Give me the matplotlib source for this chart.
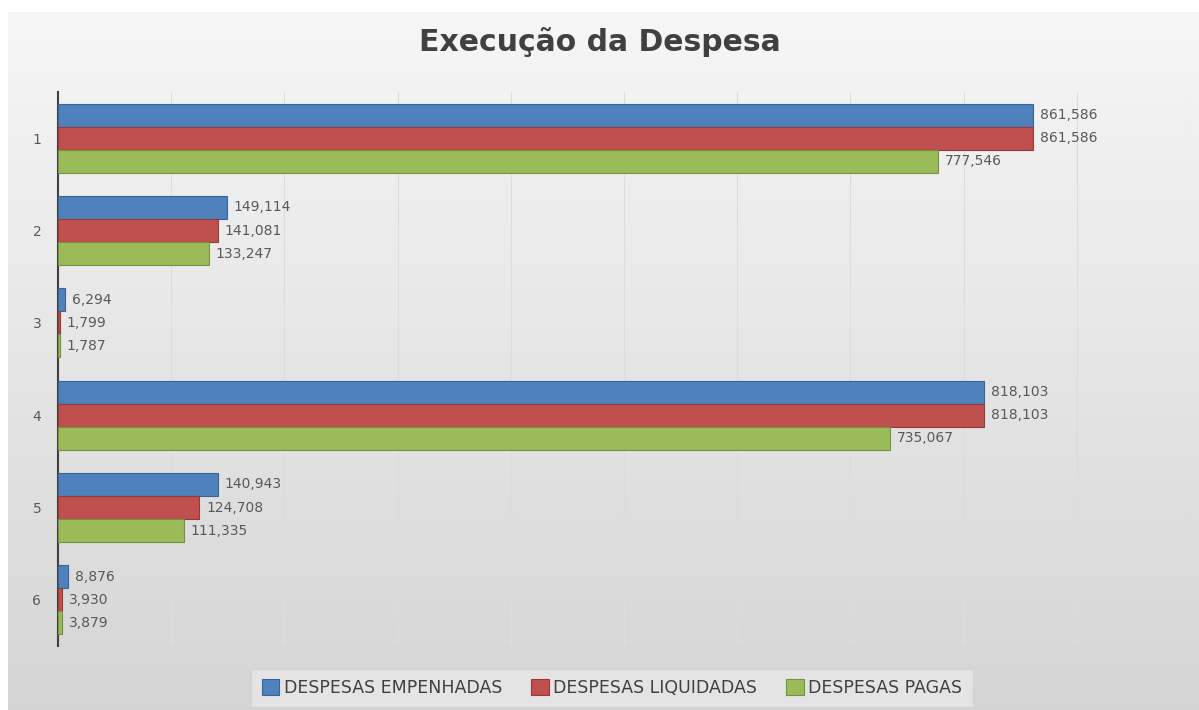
import matplotlib
matplotlib.use("Agg")
import matplotlib.pyplot as plt
import numpy as np

categories = ["1", "2", "3", "4", "5", "6"]
empenhadas = [861586, 149114, 6294, 818103, 140943, 8876]
liquidadas = [861586, 141081, 1799, 818103, 124708, 3930]
pagas = [777546, 133247, 1787, 735067, 111335, 3879]
series_names = ["DESPESAS EMPENHADAS", "DESPESAS LIQUIDADAS", "DESPESAS PAGAS"]
colors = ["#4f81bd", "#c0504d", "#9bbb59"]
edges = ["#3a6494", "#943b39", "#76913f"]

W, H = 1199, 710
fig = plt.figure(figsize=(W / 100, H / 100), dpi=100)
fig.patch.set_facecolor("white")

# background gradient frame
bg = fig.add_axes([8 / W, 0, 1 - 8 / W, 1 - 12 / H])
grad = np.linspace(0, 1, 256).reshape(-1, 1)
top = np.array([0.965, 0.965, 0.965])
bot = np.array([0.835, 0.835, 0.835])
img = top + (bot - top) * grad[..., None] * np.ones((1, 2, 1))
bg.imshow(img, aspect="auto", extent=[0, 1, 0, 1], origin="upper")
bg.set_axis_off()
bg.set_zorder(-10)

ax = fig.add_axes([58 / W, 1 - 646 / H, (1190 - 58) / W, (646 - 92) / H])
ax.patch.set_alpha(0)

y = np.arange(len(categories))
h = 0.25
data = [empenhadas, liquidadas, pagas]
for i, (vals, c, e, name) in enumerate(zip(data, colors, edges, series_names)):
    pos = y + (i - 1) * h
    ax.barh(pos, vals, height=h, color=c, edgecolor=e, linewidth=0.8,
            label=name, zorder=3)
    for p, v in zip(pos, vals):
        ax.text(v + 6000, p, f"{v:,}", va="center", ha="left",
                fontsize=10, color="#595959", zorder=4)

ax.set_xlim(0, 1000000)
ax.set_ylim(len(categories) - 0.5, -0.5)
ax.set_yticks(y)
ax.set_yticklabels(categories, fontsize=10, color="#595959")
ax.set_xticks(np.arange(0, 1000001, 100000))
ax.tick_params(axis="x", length=0, labelbottom=False)
ax.tick_params(axis="y", length=0, pad=12)
ax.grid(axis="x", color="#dcdcdc", linewidth=0.8, zorder=0)
for s in ["top", "right", "bottom"]:
    ax.spines[s].set_visible(False)
ax.spines["left"].set_color("#404040")
ax.spines["left"].set_linewidth(1.5)

fig.text(600 / W, 1 - 42 / H, "Execução da Despesa", ha="center", va="center",
         fontsize=21.5, fontweight="bold", color="#404040")

leg = fig.legend(loc="center", bbox_to_anchor=(612 / W, 1 - 688 / H), ncol=3,
                 frameon=True, fontsize=12.5, handlelength=1.0, handleheight=1.0,
                 handletextpad=0.25, columnspacing=1.7, borderpad=0.6)
leg.get_frame().set_facecolor("#e8e8e8")
leg.get_frame().set_edgecolor("#d2d2d2")
leg.get_frame().set_boxstyle("square", pad=0)
for t in leg.get_texts():
    t.set_color("#404040")

fig.savefig("out.png", dpi=100)
